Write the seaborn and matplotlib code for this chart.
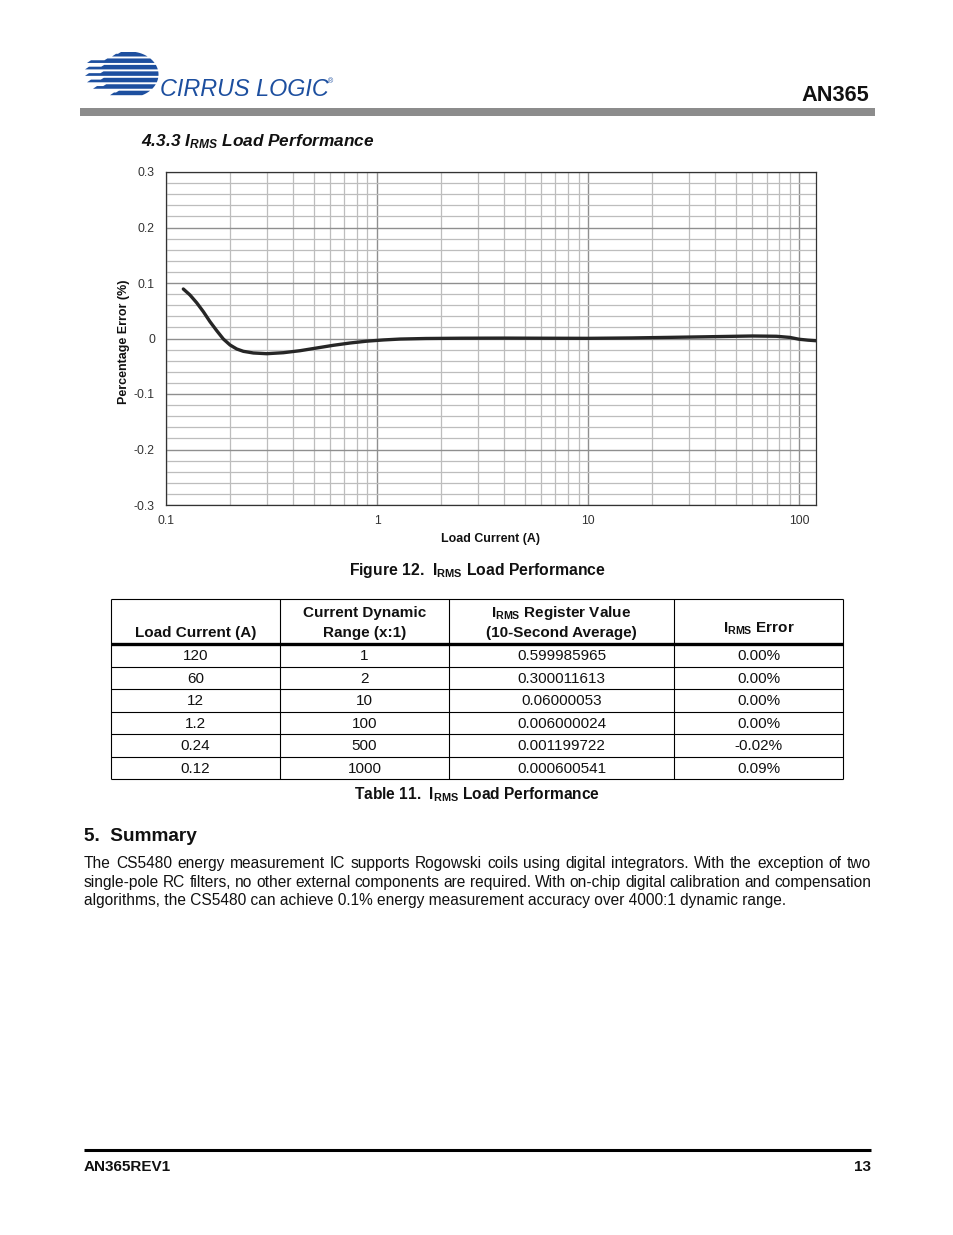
import numpy as np
import pandas as pd
import matplotlib
matplotlib.use("Agg")
import matplotlib.pyplot as plt
import seaborn as sns
from matplotlib.patches import Rectangle, Polygon
from matplotlib.ticker import LogLocator, MultipleLocator, NullFormatter

# ---------------- data ----------------
load_current_a = [0.1208, 0.1299, 0.1397, 0.1503, 0.1616, 0.1739, 0.1869, 0.2011, 0.2163, 0.2325,
                  0.2593, 0.300, 0.3597, 0.4313, 0.5178, 0.619, 0.745, 0.894, 1.071, 1.285,
                  1.7, 2.5, 4, 6, 10, 16, 24, 35, 50, 60, 78, 90, 100, 110, 120]
error_pct = [0.0892, 0.0784, 0.0645, 0.0483, 0.0303, 0.0141, -0.0009, -0.0117, -0.0189, -0.0231,
             -0.0261, -0.0274, -0.0256, -0.022, -0.0171, -0.0123, -0.0081, -0.0048, -0.0026, -0.001,
             0.0, 0.0005, 0.0007, 0.0005, 0.0003, 0.001, 0.002, 0.003, 0.004, 0.0045, 0.004,
             0.002, -0.0014, -0.003, -0.004]

x_ticks = [0.1, 1, 10, 100]
x_tick_labels = ["0.1", "1", "10", "100"]
y_ticks = [-0.3, -0.2, -0.1, 0, 0.1, 0.2, 0.3]
y_tick_labels = ["-0.3", "-0.2", "-0.1", "0", "0.1", "0.2", "0.3"]

header_line1 = ["", "Current Dynamic", r"I$_{\mathbf{RMS}}$ Register Value", ""]
header_line2 = ["Load Current (A)", "Range (x:1)", "(10-Second Average)", r"I$_{\mathbf{RMS}}$ Error"]
col_load = ["120", "60", "12", "1.2", "0.24", "0.12"]
col_range = ["1", "2", "10", "100", "500", "1000"]
col_register = ["0.599985965", "0.300011613", "0.06000053", "0.006000024", "0.001199722", "0.000600541"]
col_error = ["0.00%", "0.00%", "0.00%", "0.00%", "-0.02%", "0.09%"]

summary_lines = [
    "The CS5480 energy measurement IC supports Rogowski coils using digital integrators. With the exception of two",
    "single-pole RC filters, no other external components are required. With on-chip digital calibration and compensation",
    "algorithms, the CS5480 can achieve 0.1% energy measurement accuracy over 4000:1 dynamic range.",
]

# ---------------- style ----------------
sns.set_style("white")
plt.rcParams['font.family'] = ['Liberation Sans', 'DejaVu Sans']
plt.rcParams['mathtext.fontset'] = 'custom'
plt.rcParams['mathtext.rm'] = 'Liberation Sans'
plt.rcParams['mathtext.it'] = 'Liberation Sans:italic'
plt.rcParams['mathtext.bf'] = 'Liberation Sans:bold'
plt.rcParams['mathtext.bfit'] = 'Liberation Sans:italic:bold'

W, H = 954, 1235
fig = plt.figure(figsize=(W / 100, H / 100), dpi=100)
fig.patch.set_facecolor("white")

# page overlay in pixel coordinates
pg = fig.add_axes([0, 0, 1, 1], zorder=0)
pg.set_xlim(0, W)
pg.set_ylim(H, 0)
pg.axis("off")

TXT = "#111111"
BLUE = "#1d4f9f"
FS = 11
FS_BODY = 11.2

# ---- logo ----
cx, cy, a, b = 129.5, 74.5, 29.0, 23.0
tails = [112, 87, 85, 85, 87, 93, 110]
for i, xl in enumerate(tails):
    yt = 52.0 + i * 6.45
    yb = yt + 4.5
    ys = np.linspace(yt, yb, 10)
    xr = cx + a * np.sqrt(np.clip(1 - ((ys - cy) / b) ** 2, 0, 1))
    xle = cx - a * np.sqrt(np.clip(1 - ((ys - cy) / b) ** 2, 0, 1))
    xin = max(xle.min(), xl + 6)
    ym = yt + 1.8
    pts = [(xl, yb), (xl + 4, ym), (xin, ym), (xin + 3, yt)] + list(zip(xr, ys))
    pg.add_patch(Polygon(pts, closed=True, facecolor=BLUE, edgecolor="none"))
pg.text(160, 96, "CIRRUS LOGIC", fontsize=16.8, style="italic", color=BLUE, va="baseline", ha="left")
pg.text(328, 83, "®", fontsize=5, color=BLUE, va="baseline", ha="left")

pg.text(869, 101, "AN365", fontsize=15.7, fontweight="bold", color=TXT, ha="right", va="baseline")
pg.add_patch(Rectangle((80, 108), 795, 8, facecolor="#8c8c8c", edgecolor="none"))

pg.text(141, 146, r"4.3.3 I$_{\mathbfit{RMS}}$ Load Performance", fontsize=12.4, fontweight="bold",
        style="italic", color=TXT, ha="left", va="baseline")

# ---------------- chart ----------------
ax = fig.add_axes([166 / W, 1 - 505 / H, 650 / W, 333 / H], zorder=2)
ax.set_xscale("log")
df = pd.DataFrame({"Load Current (A)": load_current_a, "Percentage Error (%)": error_pct})
sns.lineplot(data=df, x="Load Current (A)", y="Percentage Error (%)", ax=ax,
             color="#262626", lw=2.4, estimator=None, sort=False)
line = ax.lines[0]
line.set_solid_capstyle("round")
line.set_solid_joinstyle("round")
line.set_zorder(5)
ax.set_xlim(0.1, 120)
ax.set_ylim(-0.3, 0.3)
ax.set_xticks(x_ticks, labels=x_tick_labels)
ax.set_yticks(y_ticks, labels=y_tick_labels)
ax.xaxis.set_minor_locator(LogLocator(base=10, subs=range(2, 10), numticks=20))
ax.xaxis.set_minor_formatter(NullFormatter())
ax.yaxis.set_minor_locator(MultipleLocator(0.02))
ax.grid(which="minor", color="#bdbdbd", lw=0.9)
ax.grid(which="major", color="#8f8f8f", lw=1.0)
ax.set_axisbelow(True)
ax.tick_params(which="minor", length=0)
ax.tick_params(which="major", direction="out", length=3, width=0.8, color="#333333",
               labelsize=8.8, labelcolor="#333333")
ax.tick_params(axis="y", pad=5)
ax.tick_params(axis="x", pad=4)
for s in ax.spines.values():
    s.set_color("#333333")
    s.set_linewidth(0.9)
ax.set_xlabel("Load Current (A)", fontsize=8.9, fontweight="bold", color=TXT)
ax.set_ylabel("Percentage Error (%)", fontsize=9, fontweight="bold", color=TXT)
ax.xaxis.set_label_coords(0.5, -0.085)
ax.yaxis.set_label_coords(-0.056, 0.49)

pg.text(477, 575, r"Figure 12.  I$_{\mathbf{RMS}}$ Load Performance", fontsize=11.3,
        fontweight="bold", color=TXT, ha="center", va="baseline")

# ---------------- table ----------------
col_edges = [111, 280, 449, 674, 843]
tab_top, head_bot, row_h = 599, 644, 22.5
n_rows = len(col_load)
tab_bot = head_bot + n_rows * row_h
lw_thin = 0.8
pg.hlines(tab_top, col_edges[0], col_edges[-1], color="black", lw=lw_thin)
pg.hlines(head_bot - 0.5, col_edges[0], col_edges[-1], color="black", lw=2.4)
for i in range(1, n_rows + 1):
    pg.hlines(head_bot + i * row_h, col_edges[0], col_edges[-1], color="black", lw=lw_thin)
pg.vlines(col_edges, tab_top, tab_bot, color="black", lw=lw_thin)

centers = [(col_edges[i] + col_edges[i + 1]) / 2 for i in range(4)]
for j, c in enumerate(centers):
    if header_line1[j]:
        pg.text(c, 617, header_line1[j], fontsize=FS, fontweight="bold", color=TXT,
                ha="center", va="baseline")
    yb = 633 if "Error" in header_line2[j] else 637
    pg.text(c, yb, header_line2[j], fontsize=FS, fontweight="bold", color=TXT,
            ha="center", va="baseline")

columns = [col_load, col_range, col_register, col_error]
for j, col in enumerate(columns):
    for i, val in enumerate(col):
        yc = head_bot + (i + 0.5) * row_h + 5
        pg.text(centers[j], yc, val, fontsize=FS, color=TXT, ha="center", va="baseline")

pg.text(477, 799, r"Table 11.  I$_{\mathbf{RMS}}$ Load Performance", fontsize=11.2,
        fontweight="bold", color=TXT, ha="center", va="baseline")

# ---------------- summary ----------------
pg.text(84, 841, "5.  Summary", fontsize=13.7, fontweight="bold", color=TXT, ha="left", va="baseline")

renderer = fig.canvas.get_renderer()
x0, x1 = 84, 871
base_y = [868, 887, 905]
for k, ln in enumerate(summary_lines):
    if k < len(summary_lines) - 1:
        words = ln.split(" ")
        texts = [pg.text(0, base_y[k], w, fontsize=FS_BODY, color=TXT, ha="left", va="baseline")
                 for w in words]
        widths = [t.get_window_extent(renderer).width for t in texts]
        gap = (x1 - x0 - sum(widths)) / (len(words) - 1)
        xx = x0
        for t, w in zip(texts, widths):
            t.set_x(xx)
            xx += w + gap
    else:
        pg.text(x0, base_y[k], ln, fontsize=FS_BODY, color=TXT, ha="left", va="baseline")

# ---------------- footer ----------------
pg.hlines(1150, 84, 871, color="black", lw=2.2)
pg.text(84, 1171, "AN365REV1", fontsize=11, fontweight="bold", color=TXT, ha="left", va="baseline")
pg.text(871, 1171, "13", fontsize=11, fontweight="bold", color=TXT, ha="right", va="baseline")

fig.savefig("out.png", dpi=100, facecolor="white")
